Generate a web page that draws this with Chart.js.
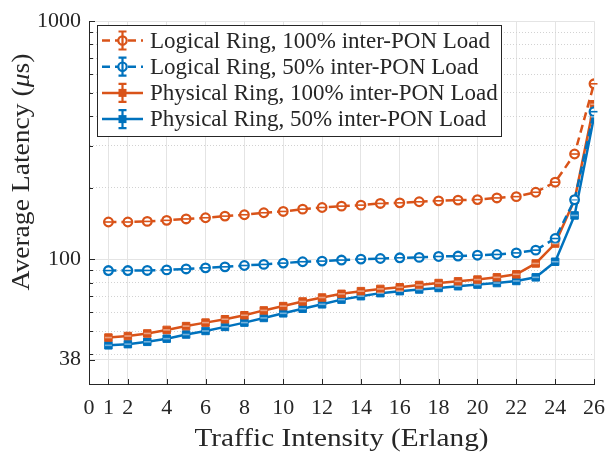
<!DOCTYPE html>
<html>
<head>
<meta charset="utf-8">
<script src="https://cdn.jsdelivr.net/npm/chart.js@4.4.1/dist/chart.umd.min.js"></script>
<style>
  html, body { margin: 0; padding: 0; background: #fff; }
  #latency-chart { display: block; }
</style>
</head>
<body>
<canvas id="latency-chart" width="616" height="455"></canvas>
<script>
// traffic intensity (Erlang) and mean latency in microseconds
const traffic = [1, 2, 3, 4, 5, 6, 7, 8, 9, 10, 11, 12, 13, 14, 15, 16, 17, 18, 19, 20, 21, 22, 23, 24, 25, 26]
const logical100 = [143.6, 143.6, 144.4, 145.9, 147.9, 149.6, 152, 154, 157, 159, 162.6, 165.2, 167.4, 169, 171.8, 172.8, 174.6, 176.2, 177.4, 178.3, 181.2, 183.5, 191.4, 211, 277, 546]
const logical50 = [89.8, 89.8, 89.9, 90.4, 91.2, 92.2, 93.1, 94.3, 95.3, 96.5, 97.8, 98.4, 99.4, 100.3, 100.9, 101.6, 102, 102.9, 103.3, 104.2, 104.9, 106.5, 109.4, 122.4, 178, 417]
const physical100 = [47.0, 47.7, 48.9, 50.6, 52.5, 54.3, 56.1, 58.3, 61.1, 63.7, 66.6, 69.2, 71.7, 73.6, 75.2, 76.4, 78.1, 79.6, 80.9, 82.3, 84.1, 86.6, 96.2, 116.6, 178, 448]
const physical50 = [43.6, 44.1, 45.1, 46.5, 48.4, 50.1, 52.1, 54.3, 56.8, 59.4, 62.1, 64.8, 67.8, 70.1, 72.2, 73.6, 74.8, 75.9, 77.2, 78.4, 79.6, 81.2, 84.1, 97.8, 153, 397]

const seriesNames = [
  'Logical Ring, 100% inter-PON Load',
  'Logical Ring, 50% inter-PON Load',
  'Physical Ring, 100% inter-PON Load',
  'Physical Ring, 50% inter-PON Load'
]

const xTicks = [0, 1, 2, 4, 6, 8, 10, 12, 14, 16, 18, 20, 22, 24, 26]
const yTicks = [38, 100, 1000]
const yMinorTicks = [30, 40, 50, 60, 70, 80, 90, 200, 300, 400, 500, 600, 700, 800, 900]

const ORANGE = '#D95319'
const BLUE = '#0072BD'
const AXIS = '#262626'
const FONT = '"Liberation Serif", "DejaVu Serif", serif'

const toPoints = arr => traffic.map((t, i) => ({ x: t, y: arr[i] }))

function series(label, values, color, logical) {
  return {
    label,
    data: toPoints(values),
    borderColor: color,
    backgroundColor: logical ? '#fff' : color,
    borderWidth: 2.5,
    borderDash: logical ? [8, 5] : [],
    pointStyle: logical ? 'circle' : 'rect',
    pointRadius: logical ? 4.3 : 5.3,
    pointBorderWidth: logical ? 2.3 : 1,
    pointBackgroundColor: logical ? '#fff' : color,
    pointBorderColor: color,
    tension: 0,
    fill: false,
    logical
  }
}

// draws a string stretched to a given width (the serif used is narrower than the plot font)
function wideText(ctx, text, x, y, width) {
  const natural = ctx.measureText(text).width
  ctx.save()
  ctx.translate(x, y)
  ctx.scale(width / natural, 1)
  ctx.fillText(text, 0, 0)
  ctx.restore()
}

// inward ticks, zero-length error bar caps, axis titles and the boxed legend
const decorations = {
  id: 'decorations',
  afterDatasetsDraw(chart) {
    const { ctx } = chart
    chart.data.datasets.forEach((ds, i) => {
      const meta = chart.getDatasetMeta(i)
      ctx.save()
      ctx.strokeStyle = ds.logical ? ds.borderColor : 'rgba(255,255,255,0.45)'
      ctx.lineWidth = 1.6
      meta.data.forEach(p => {
        ctx.beginPath()
        ctx.moveTo(p.x - 3.5, p.y)
        ctx.lineTo(p.x + 3.5, p.y)
        ctx.stroke()
      })
      ctx.restore()
    })
  },
  afterDraw(chart) {
    const { ctx, chartArea: area, scales } = chart
    ctx.save()
    ctx.strokeStyle = AXIS
    ctx.lineWidth = 1
    for (const v of xTicks) {
      const x = Math.round(scales.x.getPixelForValue(v)) + 0.5
      ctx.beginPath(); ctx.moveTo(x, area.bottom); ctx.lineTo(x, area.bottom - 5); ctx.stroke()
    }
    for (const v of [...yTicks, ...yMinorTicks]) {
      const y = Math.round(scales.y.getPixelForValue(v)) + 0.5
      const len = yTicks.includes(v) ? 6 : 4
      ctx.beginPath(); ctx.moveTo(area.left, y); ctx.lineTo(area.left + len, y); ctx.stroke()
    }

    // axis titles
    ctx.fillStyle = AXIS
    ctx.font = '25px ' + FONT
    ctx.textAlign = 'left'
    ctx.textBaseline = 'middle'
    const xTitle = 'Traffic Intensity (Erlang)'
    wideText(ctx, xTitle, (area.left + area.right) / 2 - 147, 439, 294)

    ctx.save()
    ctx.translate(22, 172)
    ctx.rotate(-Math.PI / 2)
    const parts = [['Average Latency (', ''], ['μ', 'italic '], ['s)', '']]
    const widths = parts.map(([t, style]) => { ctx.font = style + '25px ' + FONT; return ctx.measureText(t).width })
    const total = widths.reduce((a, b) => a + b, 0)
    const k = 237 / total
    ctx.scale(k, 1)
    let x0 = -total / 2
    parts.forEach(([t, style], i) => {
      ctx.font = style + '25px ' + FONT
      ctx.fillText(t, x0, 0)
      x0 += widths[i]
    })
    ctx.restore()

    // legend
    const box = { left: 97.5, top: 25.5, width: 404, height: 111 }
    ctx.fillStyle = '#fff'
    ctx.fillRect(box.left, box.top, box.width, box.height)
    ctx.strokeStyle = AXIS
    ctx.lineWidth = 1
    ctx.strokeRect(box.left, box.top, box.width, box.height)
    ctx.font = '23px ' + FONT
    ctx.textAlign = 'left'
    ctx.textBaseline = 'middle'
    chart.data.datasets.forEach((ds, i) => {
      const y = 40.5 + i * 26.2
      const mx = 122.5
      ctx.strokeStyle = ds.borderColor
      ctx.lineWidth = 2.5
      ctx.setLineDash(ds.borderDash)
      ctx.beginPath(); ctx.moveTo(102, y); ctx.lineTo(143, y); ctx.stroke()
      ctx.setLineDash([])
      // error bar glyph
      ctx.lineWidth = 2.2
      ctx.beginPath()
      ctx.moveTo(mx, y - 9); ctx.lineTo(mx, y + 9)
      ctx.moveTo(mx - 4, y - 9); ctx.lineTo(mx + 4, y - 9)
      ctx.moveTo(mx - 4, y + 9); ctx.lineTo(mx + 4, y + 9)
      ctx.stroke()
      if (ds.logical) {
        ctx.fillStyle = '#fff'
        ctx.beginPath(); ctx.arc(mx, y, 4.2, 0, Math.PI * 2); ctx.fill(); ctx.stroke()
        ctx.beginPath(); ctx.moveTo(mx, y - 4); ctx.lineTo(mx, y + 4); ctx.stroke()
      } else {
        ctx.fillStyle = ds.borderColor
        ctx.fillRect(mx - 4, y - 4, 8, 8)
      }
      ctx.fillStyle = AXIS
      ctx.fillText(ds.label, 150, y + 1)
    })
    ctx.restore()
  }
}

new Chart(document.getElementById('latency-chart'), {
  type: 'line',
  data: {
    datasets: [
      series(seriesNames[0], logical100, ORANGE, true),
      series(seriesNames[1], logical50, BLUE, true),
      series(seriesNames[2], physical100, ORANGE, false),
      series(seriesNames[3], physical50, BLUE, false)
    ]
  },
  options: {
    responsive: false,
    animation: false,
    layout: { padding: { left: 0, top: 16, right: 12, bottom: 0 } },
    plugins: { legend: { display: false }, tooltip: { enabled: false } },
    scales: {
      x: {
        type: 'linear',
        min: 0,
        max: 26,
        afterBuildTicks: scale => { scale.ticks = xTicks.map(v => ({ value: v })) },
        afterFit: scale => { scale.height = 71 },
        grid: { color: '#e4e4e4', lineWidth: 1, drawTicks: false },
        border: { color: AXIS, width: 1 },
        ticks: { color: AXIS, font: { family: FONT, size: 22 }, padding: 11, autoSkip: false, maxRotation: 0 }
      },
      y: {
        type: 'logarithmic',
        min: 30,
        max: 1000,
        afterBuildTicks: scale => {
          scale.ticks = [...yMinorTicks, ...yTicks].sort((a, b) => a - b).map(v => ({ value: v }))
        },
        afterFit: scale => { scale.width = 89 },
        grid: {
          drawTicks: false,
          lineWidth: 1,
          color: ctx => (ctx.tick && yTicks.includes(ctx.tick.value)) ? '#e4e4e4' : '#d2d2d2'
        },
        border: {
          color: AXIS,
          width: 1,
          dash: ctx => (ctx.tick && !yTicks.includes(ctx.tick.value)) ? [1, 2] : []
        },
        ticks: {
          color: AXIS,
          font: { family: FONT, size: 22 },
          padding: 8,
          autoSkip: false,
          callback: v => yTicks.includes(v) ? String(v) : ''
        }
      }
    }
  },
  plugins: [decorations]
})
</script>
</body>
</html>
